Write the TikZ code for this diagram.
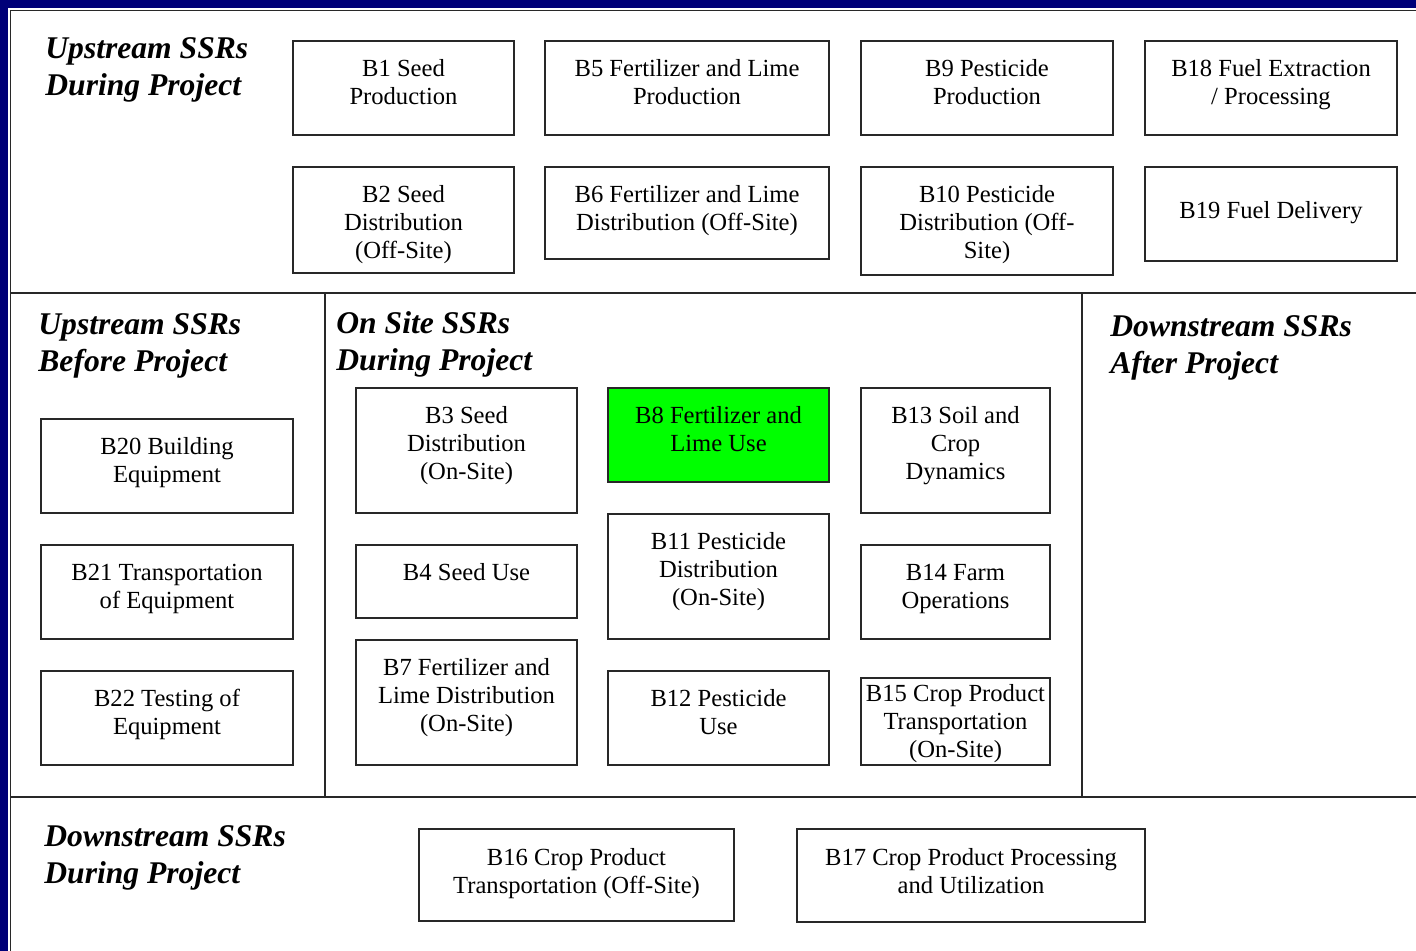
\documentclass[tikz,border=0pt]{standalone}
\usepackage{fontspec}
\setmainfont{Liberation Serif}
\definecolor{navyframe}{RGB}{0,0,120}
\definecolor{linegray}{RGB}{40,40,40}
\definecolor{hilite}{RGB}{0,255,0}
\tikzset{
  box/.style={draw=linegray, line width=0.9pt, fill=white, inner sep=0pt, outer sep=0pt,
    font=\fontsize{12.3}{14}\selectfont},
  plain/.style={},
  head/.style={anchor=north west, inner sep=0pt, align=left,
    font=\fontsize{15.8}{18.5}\selectfont\bfseries\itshape},
  sep/.style={draw=linegray, line width=0.9pt}
}
% #1 extra style, #2 first baseline below top (pt), #3 name, #4..#7 x1 y1 x2 y2 (px), #8 text
\newcommand\bx[8]{\node[box, #1, minimum width={(#6-#4)*0.5pt}, minimum height={(#7-#5)*0.5pt},
  text height=#2pt, text depth={(#7-#5)*0.5pt-#2pt}] (#3) at ({(#4+#6)/2},{(#5+#7)/2})
  {\begin{tabular}[t]{@{}c@{}}#8\end{tabular}};}
\begin{document}
\begin{tikzpicture}[x=0.5pt,y=-0.5pt]
\useasboundingbox (0,0) rectangle (1416,951);
\clip (0,0) rectangle (1416,951);
\fill[navyframe] (0,0) rectangle (1416,951);
\fill[white] (8,8) rectangle (1430,960);
\draw[sep] (10.5,10.5) rectangle (1440,970);
% separators
\coordinate (h1l) at (10,293); \coordinate (h1r) at (1420,293);
\coordinate (h2l) at (10,797); \coordinate (h2r) at (1420,797);
\coordinate (v1t) at (325,293); \coordinate (v1b) at (325,797);
\coordinate (v2t) at (1082,293); \coordinate (v2b) at (1082,797);
\draw[sep] (h1l) -- (h1r);
\draw[sep] (h2l) -- (h2r);
\draw[sep] (v1t) -- (v1b);
\draw[sep] (v2t) -- (v2b);
% headings
\node[head] (hud) at (45,37) {Upstream SSRs\\During Project};
\node[head] (hub) at (38,313) {Upstream SSRs\\Before Project};
\node[head] (hos) at (336,311) {On Site SSRs\\During Project};
\node[head] (hda) at (1110,315) {Downstream SSRs\\After Project};
\node[head] (hdd) at (44,825) {Downstream SSRs\\During Project};
% row 1
\bx{plain}{17.8}{b1}{293}{41}{514}{135}{B1 Seed\\Production}
\bx{plain}{17.8}{b5}{545}{41}{829}{135}{B5 Fertilizer and Lime\\Production}
\bx{plain}{17.8}{b9}{861}{41}{1113}{135}{B9 Pesticide\\Production}
\bx{plain}{17.8}{b18}{1145}{41}{1397}{135}{B18 Fuel Extraction\\/ Processing}
% row 2
\bx{plain}{17.8}{b2}{293}{167}{514}{273}{B2 Seed\\Distribution\\(Off-Site)}
\bx{plain}{17.8}{b6}{545}{167}{829}{259}{B6 Fertilizer and Lime\\Distribution (Off-Site)}
\bx{plain}{17.8}{b10}{861}{167}{1113}{275}{B10 Pesticide\\Distribution (Off-\\Site)}
\bx{plain}{25.8}{b19}{1145}{167}{1397}{261}{B19 Fuel Delivery}
% before project
\bx{plain}{17.8}{b20}{41}{419}{293}{513}{B20 Building\\Equipment}
\bx{plain}{17.8}{b21}{41}{545}{293}{639}{B21 Transportation\\of Equipment}
\bx{plain}{17.8}{b22}{41}{671}{293}{765}{B22 Testing of\\Equipment}
% on site
\bx{plain}{17.8}{b3}{356}{388}{577}{513}{B3 Seed\\Distribution\\(On-Site)}
\bx{plain}{17.8}{b4}{356}{545}{577}{618}{B4 Seed Use}
\bx{plain}{17.8}{b7}{356}{640}{577}{765}{B7 Fertilizer and\\Lime Distribution\\(On-Site)}
\bx{fill=hilite}{17.8}{b8}{608}{388}{829}{482}{B8 Fertilizer and\\Lime Use}
\bx{plain}{17.8}{b11}{608}{514}{829}{639}{B11 Pesticide\\Distribution\\(On-Site)}
\bx{plain}{17.8}{b12}{608}{671}{829}{765}{B12 Pesticide\\Use}
\bx{plain}{17.8}{b13}{861}{388}{1050}{513}{B13 Soil and\\Crop\\Dynamics}
\bx{plain}{17.8}{b14}{861}{545}{1050}{639}{B14 Farm\\Operations}
\bx{plain}{11.8}{b15}{861}{678}{1050}{765}{B15 Crop Product\\Transportation\\(On-Site)}
% downstream during
\bx{plain}{18.2}{b16}{419}{829}{734}{921}{B16 Crop Product\\Transportation (Off-Site)}
\bx{plain}{18.2}{b17}{797}{829}{1145}{922}{B17 Crop Product Processing\\and Utilization}
\end{tikzpicture}
\end{document}
